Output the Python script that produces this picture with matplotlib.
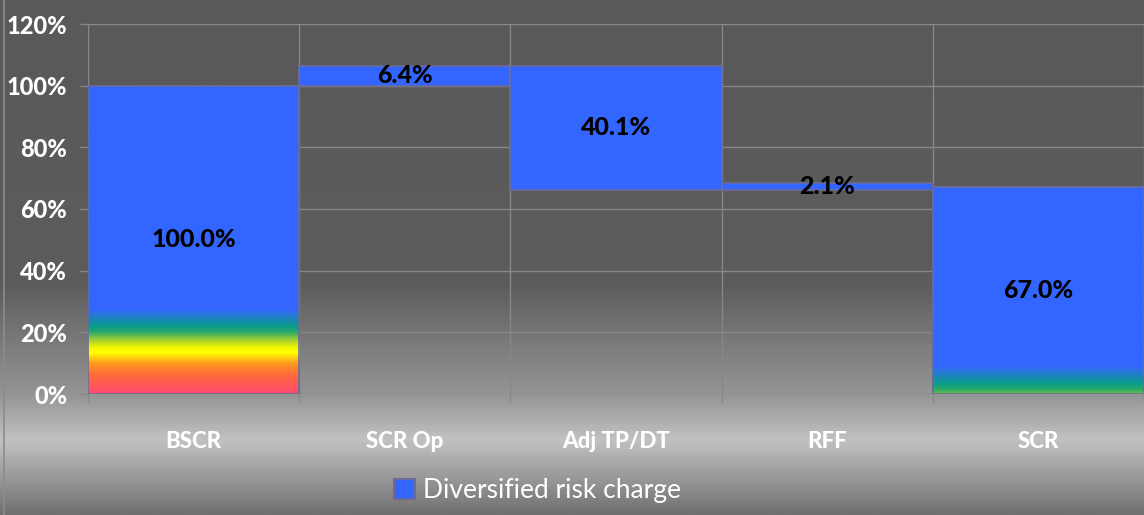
import matplotlib.pyplot as plt
import numpy as np
from matplotlib.colors import LinearSegmentedColormap, to_rgb
from matplotlib.patches import Patch

plt.rcParams['font.family'] = ['Lato', 'DejaVu Sans']

categories = ['BSCR', 'SCR Op', 'Adj TP/DT', 'RFF', 'SCR']
values = [100.0, 6.4, 40.1, 2.1, 67.0]
bases = [0.0, 100.0, 66.3, 66.3, 0.0]
yticks = [0, 20, 40, 60, 80, 100, 120]

bar_color = '#3366ff'
edge_color = '#6b6b9a'

# rainbow fill used at the foot of the total bars
rainbow = LinearSegmentedColormap.from_list('rainbow_foot', [
    (0.00, '#ff4a72'), (0.22, '#ff6a3a'), (0.36, '#ff9a1e'),
    (0.48, '#ffff00'), (0.54, '#f6f800'), (0.64, '#9ccc34'),
    (0.73, '#25a86a'), (0.80, '#0a9c8c'), (0.90, '#2180c4'),
    (1.00, bar_color)])

fig = plt.figure(figsize=(11.44, 5.15), dpi=100)

# figure background: flat dark grey with a lighter band around the labels
bg = fig.add_axes([0, 0, 1, 1], zorder=0)
rows = np.linspace(0, 515, 516)
stops_y = [0, 285, 330, 395, 440, 480, 515]
stops_c = ['#595959', '#5c5c5c', '#747474', '#959595', '#c2c2c2', '#979797', '#6f6f6f']
rgb = np.array([to_rgb(c) for c in stops_c])
grad = np.stack([np.interp(rows, stops_y, rgb[:, k]) for k in range(3)], axis=1)
bg.imshow(grad[:, None, :], aspect='auto', extent=[0, 1, 1, 0])
bg.axvline(0.0035, color='#8c8c8c', lw=1.2)
bg.set_xlim(0, 1)
bg.set_ylim(1, 0)
bg.axis('off')

ax = fig.add_axes([88 / 1144, 121 / 515, 1056 / 1144, 370 / 515], zorder=1)
ax.set_facecolor('none')

x = np.arange(len(categories))
bars = ax.bar(x, values, bottom=bases, width=1.0, color=bar_color,
              edgecolor=edge_color, linewidth=1.2, zorder=3)

# gradient foot for BSCR and SCR (range in data units)
foot = {0: (0.0, 27.5), 4: (-18.5, 9.0)}
for i, (lo, hi) in foot.items():
    b = bars[i]
    top = bases[i] + values[i]
    yy = np.linspace(top, 0, 400)
    t = np.clip((yy - lo) / (hi - lo), 0, 1)
    img = rainbow(t)[:, None, :]
    im = ax.imshow(img, aspect='auto', extent=[x[i] - 0.5, x[i] + 0.5, 0, top],
                   zorder=3.5, interpolation='bilinear')
    im.set_clip_path(b)
    ax.bar(x[i], values[i], bottom=bases[i], width=1.0, color='none',
           edgecolor=edge_color, linewidth=1.2, zorder=4)

for i, v in enumerate(values):
    ax.text(x[i], bases[i] + v / 2, f'{v:.1f}%', ha='center', va='center',
            fontsize=18, fontweight='black', color='black', zorder=5)

ax.set_xlim(-0.5, len(categories) - 0.5)
ax.set_ylim(0, 120)
ax.set_yticks(yticks)
ax.set_yticklabels([f'{t}%' for t in yticks])
ax.set_xticks(x)
ax.set_xticklabels(categories)
ax.set_xticks(np.arange(-0.5, len(categories), 1.0), minor=True)

ax.grid(axis='y', color='#878787', lw=1.0, zorder=1)
ax.grid(axis='x', which='minor', color='#878787', lw=1.0, zorder=1)
ax.tick_params(axis='y', colors='#878787', length=6, width=1.0, labelcolor='white',
               labelsize=17, pad=9)
ax.tick_params(axis='x', which='major', length=0, labelcolor='white', labelsize=16, pad=27)
ax.tick_params(axis='x', which='minor', colors='#878787', length=6, width=1.0)
for lab in ax.get_xticklabels() + ax.get_yticklabels():
    lab.set_fontweight('black')
for s in ax.spines.values():
    s.set_visible(False)
ax.axhline(0, color='#878787', lw=1.0, zorder=2)

handle = Patch(facecolor=bar_color, edgecolor=edge_color, linewidth=1.5)
fig.legend([handle], ['Diversified risk charge'], loc='center', bbox_to_anchor=(0.47, 0.048),
           frameon=False, fontsize=19, labelcolor='white', handlelength=0.8,
           handleheight=0.8, handletextpad=0.3)

fig.savefig('out.png', dpi=100)
